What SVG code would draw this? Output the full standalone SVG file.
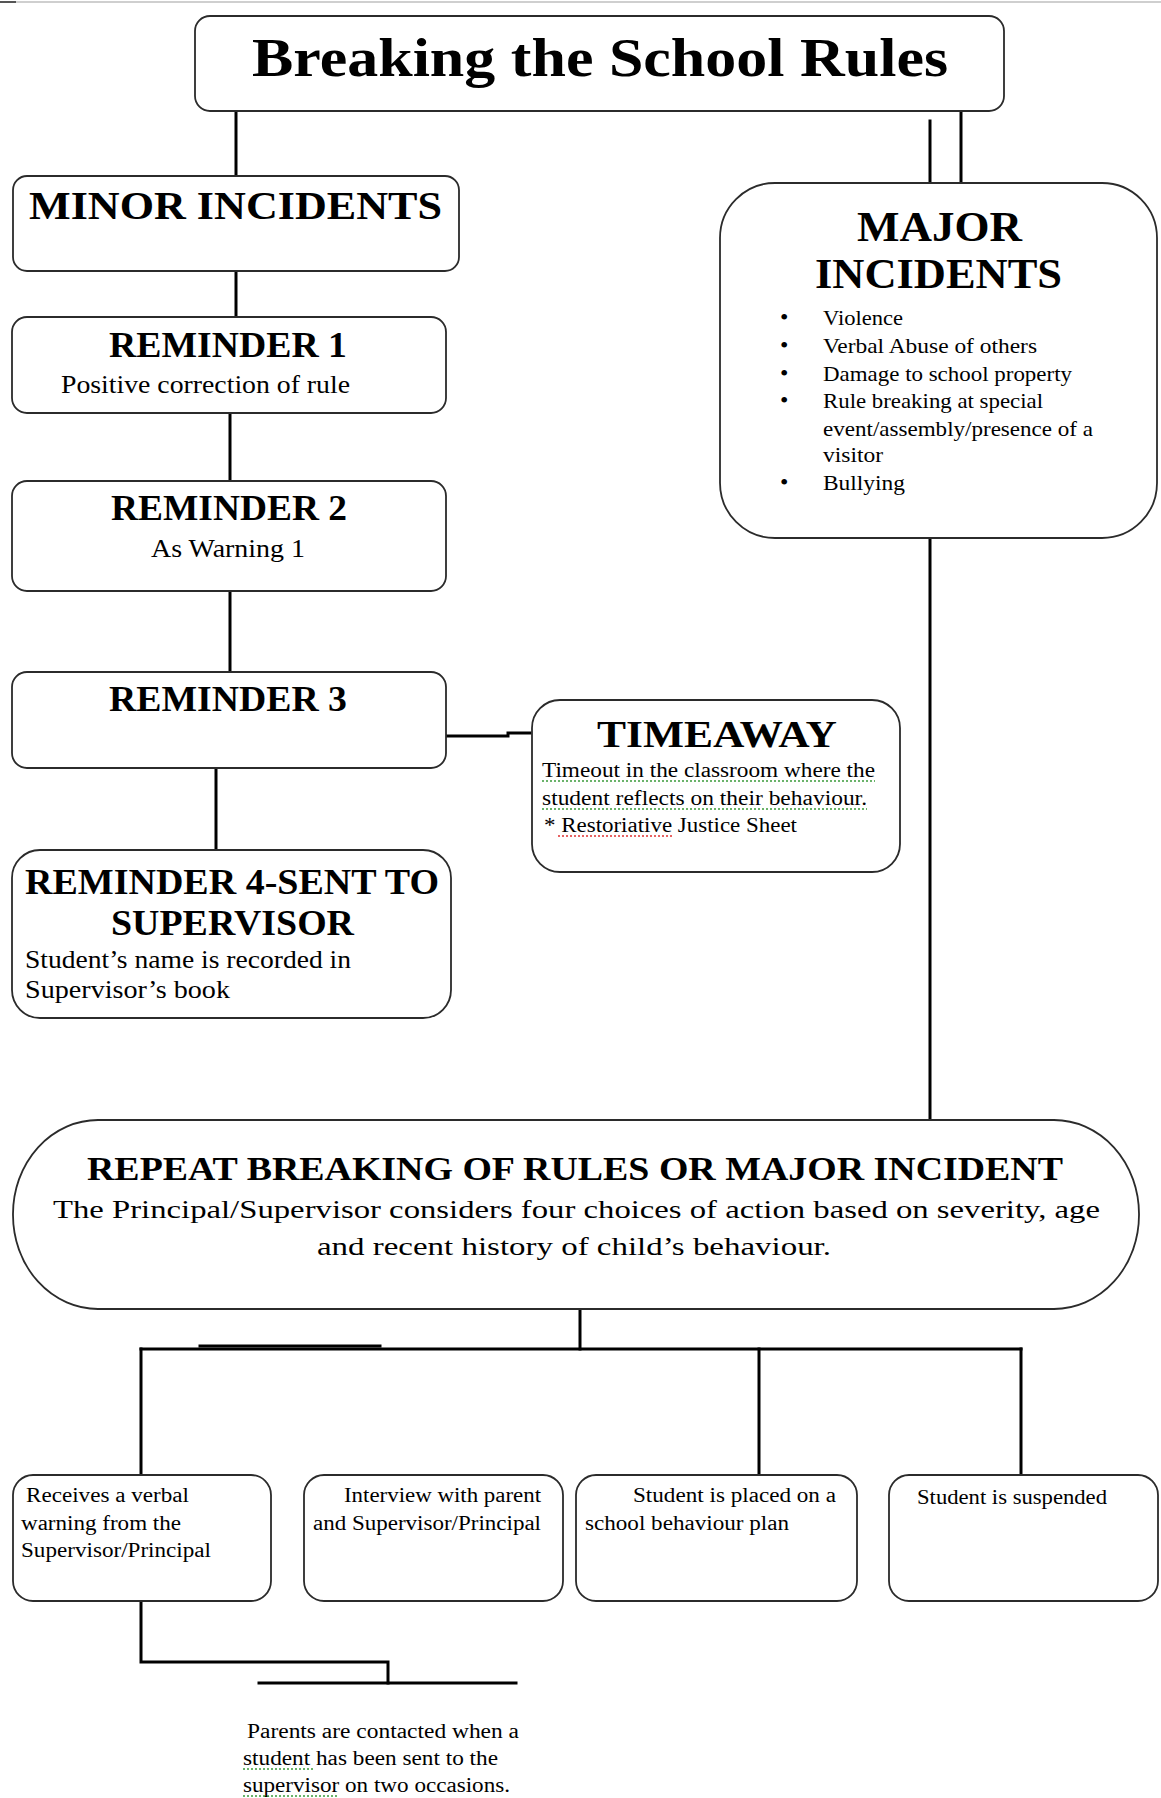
<svg xmlns="http://www.w3.org/2000/svg" width="1161" height="1798" viewBox="0 0 1161 1798">
<style>
  .box{fill:#fff;stroke:#2b2b2b;stroke-width:1.8}
  .ln{fill:none;stroke:#000;stroke-width:3;stroke-linecap:square}
  .t{fill:#000}
  .b{font-weight:bold}
  .sq-g{fill:none;stroke:#3a9a3a;stroke-width:1.3;stroke-dasharray:2 2}
  .sq-r{fill:none;stroke:#e03030;stroke-width:1.3;stroke-dasharray:2 2}
</style>
<rect width="1161" height="1798" fill="#fff"/>
<line x1="0" y1="2" x2="1161" y2="2" stroke="#cfcfcf" stroke-width="2"/>
<line x1="0" y1="2" x2="16" y2="2" stroke="#555" stroke-width="2"/>

<g id="connectors">
  <line class="ln" x1="236" y1="111" x2="236" y2="176"/>
  <line class="ln" x1="930" y1="121" x2="930" y2="183"/>
  <line class="ln" x1="961" y1="111" x2="961" y2="183"/>
  <line class="ln" x1="236" y1="271" x2="236" y2="317"/>
  <line class="ln" x1="230" y1="413" x2="230" y2="481"/>
  <line class="ln" x1="230" y1="591" x2="230" y2="672"/>
  <polyline class="ln" points="446,736 508,736 508,733 530,733"/>
  <line class="ln" x1="216" y1="768" x2="216" y2="850"/>
  <line class="ln" x1="930" y1="538" x2="930" y2="1120"/>
  <line class="ln" x1="580" y1="1309" x2="580" y2="1349"/>
  <line class="ln" x1="141" y1="1349" x2="1021" y2="1349"/>
  <line class="ln" x1="200" y1="1346" x2="380" y2="1346"/>
  <line class="ln" x1="141" y1="1349" x2="141" y2="1475"/>
  <line class="ln" x1="759" y1="1349" x2="759" y2="1475"/>
  <line class="ln" x1="1021" y1="1349" x2="1021" y2="1475"/>
  <polyline class="ln" points="141,1601 141,1662 388,1662 388,1683"/>
  <line class="ln" x1="259" y1="1683" x2="516" y2="1683"/>
</g>

<g font-family="'Liberation Serif', 'Times New Roman', Tinos, 'Nimbus Roman', FreeSerif, serif">
<g id="title">
  <rect class="box" x="195" y="16" width="809" height="95" rx="15"/>
  <text class="t b" x="252" y="76" font-size="54" textLength="696" lengthAdjust="spacingAndGlyphs">Breaking the School Rules</text>
</g>

<g id="minor">
  <rect class="box" x="13" y="176" width="446" height="95" rx="14"/>
  <text class="t b" x="29" y="219" font-size="40" textLength="413" lengthAdjust="spacingAndGlyphs">MINOR INCIDENTS</text>
</g>

<g id="reminder1">
  <rect class="box" x="12" y="317" width="434" height="96" rx="15"/>
  <text class="t b" x="109" y="357" font-size="35" textLength="238" lengthAdjust="spacingAndGlyphs">REMINDER 1</text>
  <text class="t" x="61" y="393" font-size="25" textLength="289" lengthAdjust="spacingAndGlyphs">Positive correction of rule</text>
</g>

<g id="reminder2">
  <rect class="box" x="12" y="481" width="434" height="110" rx="15"/>
  <text class="t b" x="111" y="520" font-size="35" textLength="236" lengthAdjust="spacingAndGlyphs">REMINDER 2</text>
  <text class="t" x="151" y="557" font-size="25" textLength="154" lengthAdjust="spacingAndGlyphs">As Warning 1</text>
</g>

<g id="reminder3">
  <rect class="box" x="12" y="672" width="434" height="96" rx="15"/>
  <text class="t b" x="109" y="711" font-size="35" textLength="238" lengthAdjust="spacingAndGlyphs">REMINDER 3</text>
</g>

<g id="reminder4">
  <rect class="box" x="12" y="850" width="439" height="168" rx="28"/>
  <text class="t b" x="25" y="894" font-size="35" textLength="414" lengthAdjust="spacingAndGlyphs">REMINDER 4-SENT TO</text>
  <text class="t b" x="111" y="935" font-size="35" textLength="243" lengthAdjust="spacingAndGlyphs">SUPERVISOR</text>
  <text class="t" x="25" y="968" font-size="25" textLength="326" lengthAdjust="spacingAndGlyphs">Student’s name is recorded in</text>
  <text class="t" x="25" y="998" font-size="25" textLength="205" lengthAdjust="spacingAndGlyphs">Supervisor’s book</text>
</g>

<g id="timeaway">
  <rect class="box" x="532" y="700" width="368" height="172" rx="28"/>
  <text class="t b" x="597" y="747" font-size="37" textLength="240" lengthAdjust="spacingAndGlyphs">TIMEAWAY</text>
  <text class="t" x="542" y="777" font-size="20" textLength="333" lengthAdjust="spacingAndGlyphs">Timeout in the classroom where the</text>
  <path class="sq-g" d="M542,781 H875"/>
  <text class="t" x="542" y="805" font-size="20" textLength="325" lengthAdjust="spacingAndGlyphs">student reflects on their behaviour.</text>
  <path class="sq-g" d="M542,809 H867"/>
  <text class="t" x="544" y="832" font-size="20" textLength="253" lengthAdjust="spacingAndGlyphs">* Restoriative Justice Sheet</text>
  <path class="sq-r" d="M558,836 H672"/>
</g>

<g id="major">
  <rect class="box" x="720" y="183" width="437" height="355" rx="55"/>
  <text class="t b" x="857" y="241" font-size="42" textLength="165" lengthAdjust="spacingAndGlyphs">MAJOR</text>
  <text class="t b" x="815" y="288" font-size="42" textLength="247" lengthAdjust="spacingAndGlyphs">INCIDENTS</text>
  <g class="t" font-size="21">
    <text x="780" y="325" font-size="24">•</text>
    <text x="823" y="325" textLength="80" lengthAdjust="spacingAndGlyphs">Violence</text>
    <text x="780" y="353" font-size="24">•</text>
    <text x="823" y="353" textLength="214" lengthAdjust="spacingAndGlyphs">Verbal  Abuse of others</text>
    <text x="780" y="381" font-size="24">•</text>
    <text x="823" y="381" textLength="249" lengthAdjust="spacingAndGlyphs">Damage  to school  property</text>
    <text x="780" y="408" font-size="24">•</text>
    <text x="823" y="408" textLength="220" lengthAdjust="spacingAndGlyphs">Rule breaking  at special</text>
    <text x="823" y="436" textLength="270" lengthAdjust="spacingAndGlyphs">event/assembly/presence  of a</text>
    <text x="823" y="462" textLength="60" lengthAdjust="spacingAndGlyphs">visitor</text>
    <text x="780" y="490" font-size="24">•</text>
    <text x="823" y="490" textLength="82" lengthAdjust="spacingAndGlyphs">Bullying</text>
  </g>
</g>

<g id="repeat">
  <rect class="box" x="13" y="1120" width="1126" height="189" rx="85" ry="94"/>
  <text class="t b" x="87" y="1180" font-size="34" textLength="976" lengthAdjust="spacingAndGlyphs">REPEAT BREAKING OF RULES OR MAJOR INCIDENT</text>
  <text class="t" x="53" y="1218" font-size="26" textLength="1047" lengthAdjust="spacingAndGlyphs">The Principal/Supervisor considers four choices of action based on severity, age</text>
  <text class="t" x="317" y="1255" font-size="26" textLength="514" lengthAdjust="spacingAndGlyphs">and recent history of child’s behaviour.</text>
</g>

<g id="verbal-warning">
  <rect class="box" x="13" y="1475" width="258" height="126" rx="20"/>
  <text class="t" x="26" y="1502" font-size="20" textLength="163" lengthAdjust="spacingAndGlyphs">Receives a verbal</text>
  <text class="t" x="21" y="1530" font-size="20" textLength="160" lengthAdjust="spacingAndGlyphs">warning from the</text>
  <text class="t" x="21" y="1557" font-size="20" textLength="190" lengthAdjust="spacingAndGlyphs">Supervisor/Principal</text>
</g>

<g id="interview">
  <rect class="box" x="304" y="1475" width="259" height="126" rx="20"/>
  <text class="t" x="344" y="1502" font-size="20" textLength="197" lengthAdjust="spacingAndGlyphs">Interview  with parent</text>
  <text class="t" x="313" y="1530" font-size="20" textLength="228" lengthAdjust="spacingAndGlyphs">and Supervisor/Principal</text>
</g>

<g id="behaviour-plan">
  <rect class="box" x="576" y="1475" width="281" height="126" rx="20"/>
  <text class="t" x="633" y="1502" font-size="20" textLength="203" lengthAdjust="spacingAndGlyphs">Student is placed  on a</text>
  <text class="t" x="585" y="1530" font-size="20" textLength="204" lengthAdjust="spacingAndGlyphs">school behaviour plan</text>
</g>

<g id="suspended">
  <rect class="box" x="889" y="1475" width="269" height="126" rx="20"/>
  <text class="t" x="917" y="1504" font-size="20" textLength="190" lengthAdjust="spacingAndGlyphs">Student is suspended</text>
</g>

<g id="parents-note">
  <text class="t" x="247" y="1738" font-size="20" textLength="272" lengthAdjust="spacingAndGlyphs">Parents are  contacted when  a</text>
  <text class="t" x="243" y="1765" font-size="20" textLength="255" lengthAdjust="spacingAndGlyphs">student has been  sent to the</text>
  <path class="sq-g" d="M243,1769 H314"/>
  <text class="t" x="243" y="1792" font-size="20" textLength="267" lengthAdjust="spacingAndGlyphs">supervisor on two occasions.</text>
  <path class="sq-g" d="M243,1796 H337"/>
</g>
</g>
</svg>
